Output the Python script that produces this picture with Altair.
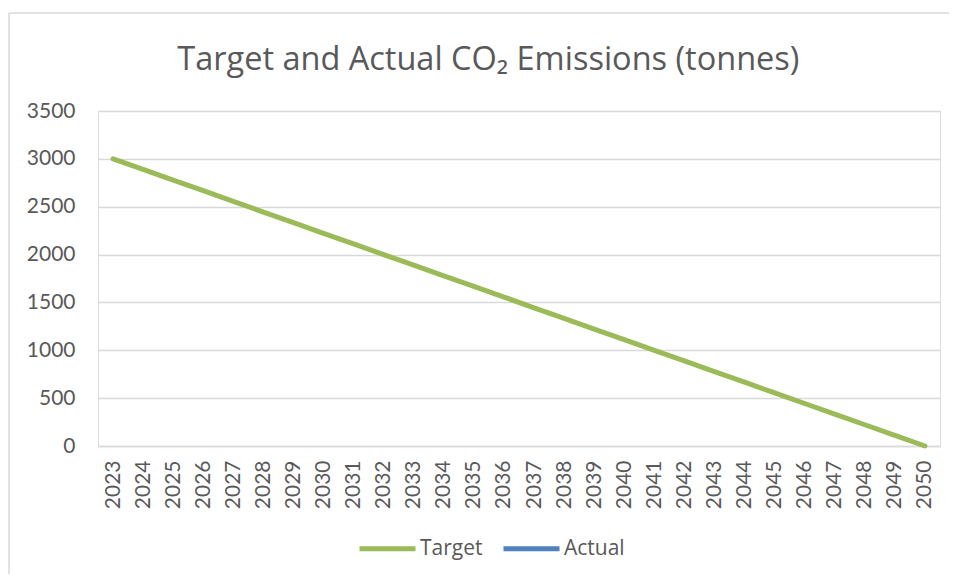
import altair as alt
import pandas as pd

years = [str(y) for y in range(2023, 2051)]
target = [3000, 2889, 2778, 2667, 2556, 2444, 2333, 2222, 2111, 2000,
          1889, 1778, 1667, 1556, 1444, 1333, 1222, 1111, 1000, 889,
          778, 667, 556, 444, 333, 222, 111, 0]
actual = [None] * len(years)
series = ["Target", "Actual"]
colors = ["#9BBB59", "#4F81BD"]
y_ticks = [0, 500, 1000, 1500, 2000, 2500, 3000, 3500]

rows = []
for y, t, a in zip(years, target, actual):
    rows.append({"year": y, "series": "Target", "value": t})
    rows.append({"year": y, "series": "Actual", "value": a})
df = pd.DataFrame(rows)

FONT = "Lato"
TFONT = "Open Sans"
GREY = "#595959"

line = alt.Chart(df).mark_line(strokeWidth=5, strokeCap="round").encode(
    x=alt.X("year:O", sort=years, title=None,
            axis=alt.Axis(labelAngle=-90, labelFontSize=21, labelColor=GREY,
                          labelFont=FONT, ticks=False, domain=True,
                          domainColor="#D9D9D9", domainWidth=1.5,
                          labelPadding=14, grid=False)),
    y=alt.Y("value:Q", title=None,
            scale=alt.Scale(domain=[0, 3500], nice=False),
            axis=alt.Axis(values=y_ticks, format="d", labelFontSize=21, labelColor=GREY,
                          labelFont=FONT, ticks=False, domain=False,
                          labelPadding=23, gridColor="#D9D9D9", gridWidth=1.5)),
    color=alt.Color("series:N", scale=alt.Scale(domain=series, range=colors),
                    legend=alt.Legend(title=None, orient="none", direction="horizontal",
                                      legendX=259, legendY=407,
                                      symbolType="stroke", symbolSize=3136,
                                      symbolStrokeWidth=5, labelFontSize=21,
                                      labelFont=TFONT, labelColor=GREY,
                                      columnPadding=10, labelOffset=2)),
)

frame_data = alt.Data(values=[{}])
left_rule = alt.Chart(frame_data).mark_rule(color="#D9D9D9", strokeWidth=1.5).encode(
    x=alt.value(-89), y=alt.value(-98), y2=alt.value(480))
top_rule = alt.Chart(frame_data).mark_rule(color="#D9D9D9", strokeWidth=1.5).encode(
    x=alt.value(-89), x2=alt.value(860), y=alt.value(-98))

chart = alt.layer(line, left_rule, top_rule).properties(
    width=842, height=335,
    autosize=alt.AutoSizeParams(type="none"),
    padding={"left": 90, "top": 103, "right": 9, "bottom": 128},
    title=alt.Title("Target and Actual CO₂ Emissions (tonnes)", fontSize=32.5,
                    font=TFONT, color=GREY, fontWeight="normal",
                    anchor="start", dx=169, offset=-64),
).configure_view(stroke=None).configure(background="white")

chart.save("out.html", embed_options={"renderer": "svg", "actions": False})
